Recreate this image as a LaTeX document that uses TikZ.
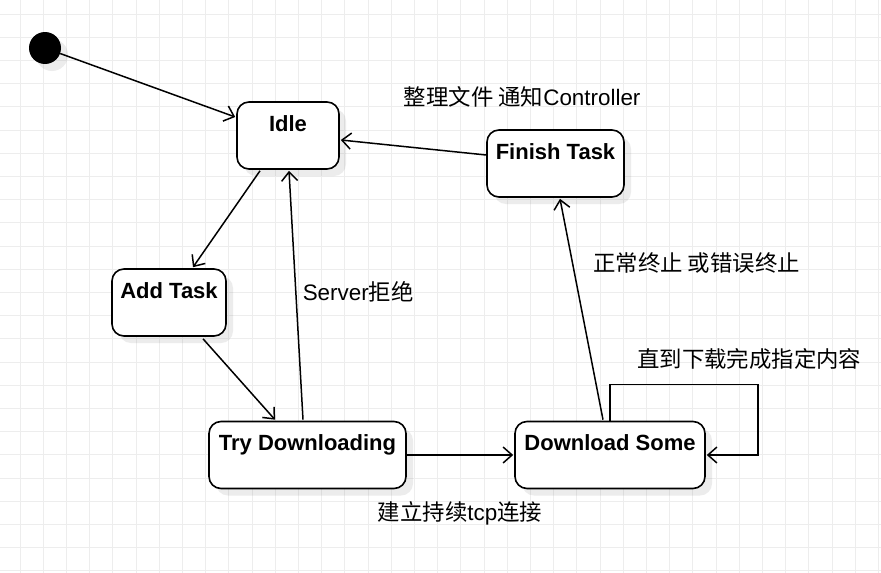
\documentclass[tikz,border=0pt]{standalone}
\usepackage{fontspec}
\setmainfont{Liberation Sans}
\newfontfamily\cjk{Noto Sans CJK SC}
\usetikzlibrary{arrows.meta}
\usetikzlibrary{calc}
\usetikzlibrary{shadows}

\begin{document}
\begin{tikzpicture}[x=1pt, y=-1pt,
    gridline/.style={draw=black!7, line width=0.8pt},
    state/.style={draw, line width=1.6pt, rounded corners=12pt, fill=white,
      inner xsep=0pt, inner ysep=0pt, text height=29pt, text depth=38pt,
      font=\fontsize{22}{26}\selectfont\bfseries,
      drop shadow={shadow xshift=7pt, shadow yshift=-7pt, opacity=0.15}},
    trans/.style={line width=1.5pt, -{Straight Barb[length=9pt, width=16pt]}},
    lbl/.style={font=\fontsize{22.4}{26}\selectfont, inner sep=0pt}]
    \useasboundingbox (0,0) rectangle (881,573);
    \fill[white] (0,0) rectangle (881,573);

    % background grid
    \foreach \i in {0,...,37} {
      \draw[gridline] (20+23.2*\i,0) -- (20+23.2*\i,573);
    }
    \foreach \j in {0,...,24} {
      \draw[gridline] (0,14+23.2*\j) -- (881,14+23.2*\j);
    }

    \node[circle, fill=black, inner sep=0pt, minimum size=32pt,
      drop shadow={shadow xshift=7pt, shadow yshift=-7pt, opacity=0.15}] (init) at (45,48) {};
    \node[state, minimum width=102pt] (idle) at (288,135.5) {Idle};
    \node[state, minimum width=137pt] (finish) at (555.5,163.5) {Finish Task};
    \node[state, minimum width=114pt] (add) at (169,302.5) {Add Task};
    \node[state, minimum width=197pt] (try) at (307.5,455) {Try Downloading};
    \node[state, minimum width=190pt] (some) at (610,455) {Download Some};

    \draw[trans] (init) -- ($(idle.west)+(-1,-18.5)$);
    \draw[trans] ($(finish.west)+(0,-8.5)$) -- ($(idle.east)+(1,4.5)$)
      node[lbl, pos=0, xshift=36pt, yshift=58pt] {{\cjk 整理文件 通知}Controller};
    \draw[trans] ($(idle.south)+(-28,1)$) -- ($(add.north)+(24,-1)$);
    \draw[trans] ($(add.south)+(34,2)$) -- ($(try.north)+(-32.5,-1)$);
    \draw[trans] ($(try.north)+(-4.5,-1)$) -- ($(idle.south)+(1,1)$)
      node[lbl, midway, anchor=west, xshift=6pt, yshift=3pt] {Server{\cjk 拒绝}};
    \draw[trans] (try.east) -- ($(some.west)+(-1,0)$)
      node[lbl, midway, yshift=-58pt] {{\cjk 建立持续}tcp{\cjk 连接}};
    \draw[trans] ($(some.north)+(-7,-1)$) -- ($(finish.south)+(4.5,1)$)
      node[lbl, pos=0.71, anchor=west, xshift=20pt] {{\cjk 正常终止 或错误终止}};
    \draw[trans] (some.north) -- ++(0,-36) coordinate (loop)
      -| ($(some.east)+(52,0)$) -- ($(some.east)+(1,0)$);
    \node[lbl, anchor=west] (looplbl) at ($(loop)+(27,-26)$) {{\cjk 直到下载完成指定内容}};
\end{tikzpicture}
\end{document}
